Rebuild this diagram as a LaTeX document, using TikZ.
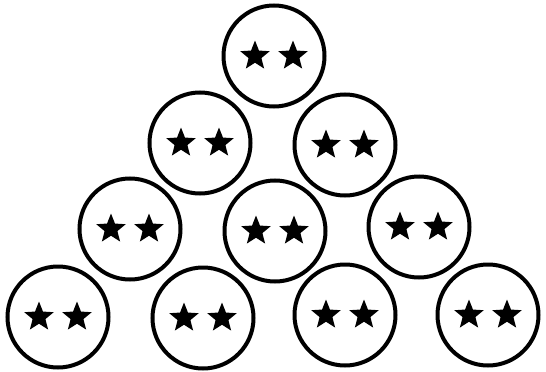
\documentclass[tikz,border=0pt]{standalone}
\usepackage{tikz}
\usetikzlibrary{shapes.geometric}
\tikzset{
  ball/.style={
    circle, draw=black, line width=4pt, fill=white,
    minimum size=101pt, inner sep=0pt
  },
  starmark/.style={
    star, star points=5, star point ratio=2.3, fill=black,
    draw=none, minimum size=31pt, inner sep=0pt
  }
}

\begin{document}
\begin{tikzpicture}[x=1pt,y=-1pt]
  \useasboundingbox (0,0) rectangle (546,372);

  % row 1
  \node[ball] (b1)  at (274,56)  {};
  % row 2
  \node[ball] (b2)  at (200,143) {};
  \node[ball] (b3)  at (345,145) {};
  % row 3
  \node[ball] (b4)  at (130,229) {};
  \node[ball] (b5)  at (275,231) {};
  \node[ball] (b6)  at (419,227) {};
  % row 4
  \node[ball] (b7)  at (58,317)  {};
  \node[ball] (b8)  at (203,318) {};
  \node[ball] (b9)  at (345,315) {};
  \node[ball] (b10) at (488,315) {};

  % two stars in each ball
  \foreach \b in {b1,b2,b3,b4,b5,b6,b7,b8,b9,b10}{
    \node[starmark] (\b-l) at ([xshift=-19pt]\b.center) {};
    \node[starmark] (\b-r) at ([xshift=19pt]\b.center) {};
  }
\end{tikzpicture}
\end{document}
